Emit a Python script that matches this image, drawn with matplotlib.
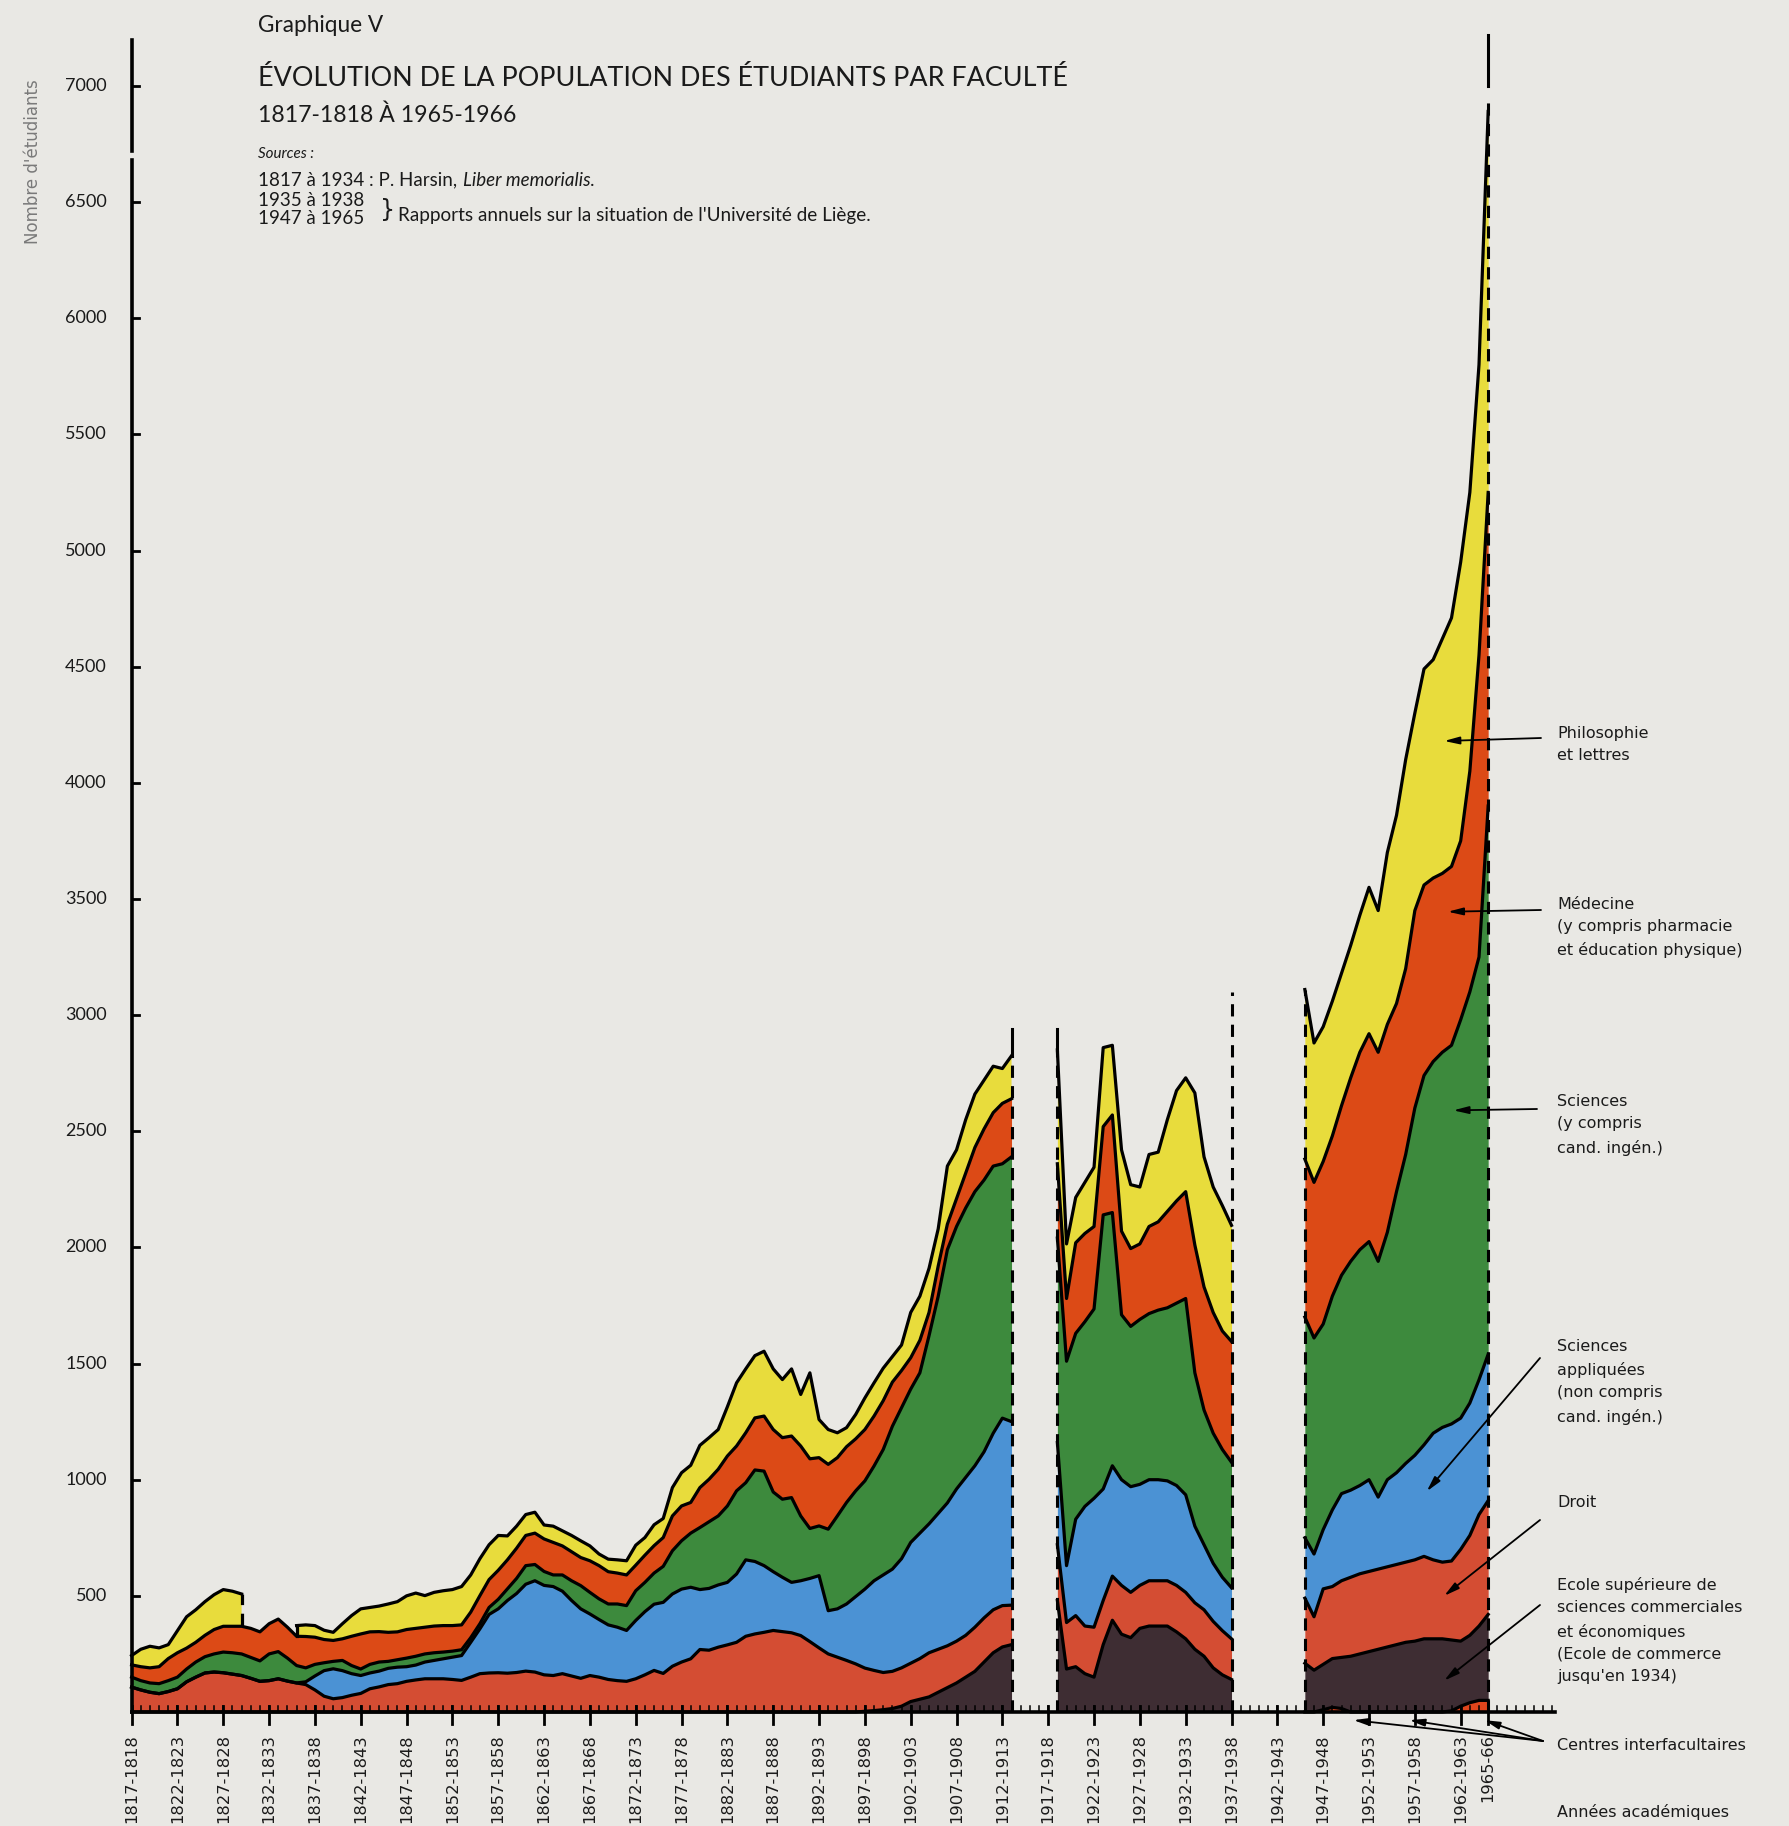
import numpy as np
import matplotlib.pyplot as plt

W, H = 1789, 1826
BG = '#e9e8e4'
nan = float('nan')

# Nombre d'étudiants par faculté (du bas vers le haut)

# 1817-1818 à 1913-1914
years_a = list(range(1817, 1914))
esc_a = [0] * 80 + [3, 6, 10, 15, 25, 45, 55, 65, 85, 105, 125, 150, 175, 215, 255, 280, 290]
droit_a = [107, 95, 85, 79, 88, 100, 130, 150, 168, 172, 169, 163, 157, 145, 132, 135, 143, 133, 125,
           118, 95, 68, 57, 62, 72, 80, 100, 108, 118, 122, 132, 138, 143, 143, 143, 140, 136, 150, 165,
           168, 169, 167, 170, 176, 172, 160, 157,
           165, 155, 145, 157, 150, 140, 135, 132, 143, 160, 179, 166, 197, 215, 229, 269, 266, 279, 289,
           300, 326, 336, 343, 351, 346, 341, 329, 303, 276, 250, 236, 222, 207,
           186, 173, 160, 160, 165, 165, 175, 190, 185, 180, 180, 180, 190, 190, 185, 178, 170]
appl_a = [0] * 19 + [12, 60, 110, 129, 116, 93, 77, 68, 68, 70, 71, 63, 64, 72, 79, 86, 96, 107, 150, 193,
                     252, 275, 313, 340, 374, 393, 385, 383,
                     355, 325, 299, 265, 248, 235, 230, 219, 251, 272, 285, 306, 311, 314, 308, 258, 266,
                     268, 269, 294, 329, 312, 287, 253, 234, 217, 236, 272, 311, 186, 208, 243, 290,
                     340, 386, 420, 440, 470, 520, 540, 555, 585, 615, 655, 680, 695, 715, 760, 807, 790]
sci_a = [43, 40, 40, 43, 47, 50, 55, 65, 70, 78, 89, 92, 93, 90, 88, 115, 117, 99, 75,
         60, 50, 34, 32, 44, 35, 28, 37, 39, 30, 32, 37, 38, 35, 33, 29, 26, 25, 20, 22, 30, 41, 50, 65,
         80, 70, 60, 50,
         70, 85, 100, 93, 89, 90, 100, 107, 128, 126, 134, 155, 186, 208, 233, 267, 287, 297, 329, 358,
         332, 394, 407, 343, 336, 365, 279, 215, 214, 351, 400, 437, 455,
         466, 494, 540, 615, 650, 660, 690, 810, 935, 1090, 1130, 1160, 1180, 1170, 1150, 1095, 1140]
med_a = [53, 60, 65, 73, 95, 105, 90, 85, 92, 105, 111, 114, 119, 125, 125, 130, 140, 133, 126,
         135, 117, 100, 90, 93, 126, 151, 140, 131, 125, 120, 123, 120, 115, 115, 114, 110, 107, 110, 121,
         120, 125, 125, 130, 130, 135, 140, 140,
         125, 125, 121, 136, 143, 139, 133, 132, 110, 117, 118, 124, 150, 150, 132, 172, 183, 201, 215,
         193, 215, 224, 237, 269, 265, 265, 301, 300, 294, 279, 251, 240, 224,
         221, 215, 210, 190, 160, 135, 140, 100, 130, 110, 120, 150, 190, 220, 230, 260, 250]
philo_a = [40, 75, 93, 81, 60, 95, 135, 140, 145, 150, 158, 151, 139, nan, nan, nan, nan, nan, 46,
           50, 50, 40, 35, 65, 89, 108, 105, 110, 122, 130, 145, 152, 136, 145, 150, 155, 165, 160, 159,
           150, 150, 103, 95, 90, 90, 60, 70,
           65, 70, 72, 64, 50, 54, 57, 61, 86, 76, 90, 82, 122, 143, 160, 182, 179, 171, 212, 272,
           275, 268, 279, 261, 250, 289, 222, 370, 164, 150, 107, 82, 105,
           136, 143, 140, 110, 110, 195, 190, 190, 160, 250, 210, 230, 230, 210, 200, 150, 185]

# 1918-1919 à 1937-1938
years_b = list(range(1918, 1938))
esc_b = [480, 185, 195, 165, 150, 290, 395, 335, 320, 360, 370, 370, 370, 345, 315, 270, 240, 190, 160, 140]
droit_b = [240, 200, 220, 205, 215, 190, 190, 210, 195, 185, 195, 195, 195, 200, 200, 200, 200, 200, 190, 175]
appl_b = [440, 245, 415, 515, 555, 480, 475, 455, 455, 435, 435, 435, 430, 430, 420, 330, 280, 250, 230, 220]
sci_b = [880, 880, 800, 795, 815, 1180, 1090, 710, 690, 710, 715, 730, 745, 785, 845, 660, 580, 560, 550, 540]
med_b = [320, 270, 390, 380, 355, 380, 420, 360, 335, 325, 375, 380, 415, 440, 460, 550, 530, 520, 510, 520]
philo_b = [490, 235, 195, 220, 255, 340, 300, 350, 275, 245, 310, 300, 395, 475, 490, 655, 560, 540, 540, 500]

# 1945-1946 à 1965-1966
years_c = list(range(1945, 1966))
centres_c = [0, 0, 10, 20, 15, 0, 0, 0, 0, 0, 0, 0, 0, 0, 0, 0, 5, 25, 40, 50, 50]
esc_c = [210, 180, 195, 210, 220, 240, 250, 260, 270, 280, 290, 300, 305, 315, 315, 315, 305, 280, 290, 320, 370]
droit_c = [280, 230, 325, 310, 330, 340, 345, 345, 345, 345, 345, 345, 350, 355, 340, 330, 340, 395, 430, 480, 490]
appl_c = [260, 270, 255, 330, 375, 375, 380, 395, 310, 375, 395, 425, 450, 480, 545, 580, 590, 565, 570, 580, 630]
sci_c = [950, 930, 885, 920, 940, 985, 1015, 1025, 1015, 1065, 1210, 1330, 1495, 1590, 1600, 1615, 1630, 1715,
         1770, 1820, 2360]
med_c = [680, 670, 700, 690, 730, 790, 850, 895, 900, 895, 810, 800, 850, 820, 790, 770, 770, 770, 950, 1300, 1350]
philo_c = [730, 600, 580, 580, 570, 570, 590, 630, 610, 740, 810, 900, 850, 930, 940, 1010, 1070, 1200, 1200,
           1250, 1640]

colors = {
    'centres': '#e0451c',
    'esc': '#3e2d33',
    'droit': '#d44d33',
    'appl': '#4b92d4',
    'sci': '#3d8a3d',
    'med': '#dc4a16',
    'philo': '#e8dc3c',
}
LW = 2.3

fig = plt.figure(figsize=(W / 100, H / 100), dpi=100, facecolor=BG)

# placement de l'axe: 1817 -> x=131.6 px, 9.166 px par année ; 0 -> y=1712 px, 0.2323 px par étudiant
X0, XS, Y0, YS = 131.6, 9.166, 1712.0, 0.2323
xlim, ylim = (1812, 1985), (-480, 7300)
left = (X0 + (xlim[0] - 1817) * XS) / W
right = (X0 + (xlim[1] - 1817) * XS) / W
bottom = 1 - (Y0 - ylim[0] * YS) / H
top = 1 - (Y0 - ylim[1] * YS) / H
ax = fig.add_axes([left, bottom, right - left, top - bottom])
ax.set_xlim(xlim)
ax.set_ylim(ylim)
ax.axis('off')


def fpx(x, y):
    return x / W, 1 - y / H


def draw_block(years, series, keys):
    x = np.asarray(years, float)
    base = np.zeros(len(x))
    outlines = []
    for vals, key in zip(series, keys):
        v = np.asarray(vals, float)
        have = ~np.isnan(v)
        tp = base + np.nan_to_num(v)
        ax.fill_between(x, base, tp, where=have, color=colors[key], lw=0, zorder=1)
        outlines.append((base.copy(), tp, have))
        base = tp
    for low, tp, have in outlines:
        ax.plot(x, np.where(have, tp, np.nan), color='k', lw=LW, zorder=3, solid_joinstyle='round')
        for i in range(len(x) - 1):
            if have[i] != have[i + 1]:
                j = i if have[i] else i + 1
                ax.plot([x[j], x[j]], [low[j], tp[j]], color='k', lw=LW, zorder=3,
                        ls=(0, (4, 2.7)) if have[i] else '-')
    return base


def edge(xv, y0, y1, dashed=True):
    ax.plot([xv, xv], [y0, y1], color='k', lw=2.2, zorder=4, clip_on=False,
            ls=(0, (4, 2.7)) if dashed else '-')


keys6 = ['esc', 'droit', 'appl', 'sci', 'med', 'philo']
tot_a = draw_block(years_a, [esc_a, droit_a, appl_a, sci_a, med_a, philo_a], keys6)
tot_b = draw_block(years_b, [esc_b, droit_b, appl_b, sci_b, med_b, philo_b], keys6)
tot_c = draw_block(years_c, [centres_c, esc_c, droit_c, appl_c, sci_c, med_c, philo_c], ['centres'] + keys6)

# limites des périodes
edge(years_a[-1], 0, tot_a[-1])
edge(years_a[-1], tot_a[-1], 2940, dashed=False)
edge(years_b[0], 0, tot_b[0])
edge(years_b[0], tot_b[0], 2940, dashed=False)
edge(years_b[-1], 0, 3100)
edge(years_c[0], 0, tot_c[0])
edge(years_c[-1], 0, 6950)
edge(years_c[-1], 7000, 7220, dashed=False)

# axe vertical
ax.plot([1817, 1817], [0, 6681], color='k', lw=2.6, zorder=5, clip_on=False)
ax.plot([1817, 1817], [6720, 7197], color='k', lw=2.6, zorder=5, clip_on=False)
for v in range(500, 7001, 500):
    ax.plot([1817, 1817.8], [v, v], color='k', lw=2, zorder=5)
    ax.text(1814.3, v, str(v), ha='right', va='center', fontsize=13, family='Lato', color='#1a1a1a')

# axe horizontal
ax.plot([1817, 1972.3], [0, 0], color='k', lw=2.6, zorder=5, clip_on=False)
for yr in range(1817, 1973):
    ax.plot([yr, yr], [0, 26], color='k', lw=1.1, zorder=5)
tick_years = list(range(1817, 1963, 5)) + [1965]
tick_labels = [f'{y}-{y + 1}' for y in range(1817, 1963, 5)] + ['1965-66']
for yr, lab in zip(tick_years, tick_labels):
    ax.plot([yr, yr], [-50, 26], color='k', lw=2, zorder=5, clip_on=False)
    ax.text(yr, -95, lab, rotation=90, ha='center', va='top', fontsize=11.8,
            family='DejaVu Sans', color='#1a1a1a')

# titres
renderer = fig.canvas.get_renderer()


def fit(t, width):
    bb = t.get_window_extent(renderer)
    t.set_fontsize(t.get_fontsize() * width / bb.width)


t = fig.text(*fpx(258, 26), 'Graphique V', fontsize=14, family='Lato', va='center', color='#1a1a1a')
fit(t, 126)
t = fig.text(*fpx(258, 78), 'ÉVOLUTION DE LA POPULATION DES ÉTUDIANTS PAR FACULTÉ', fontsize=20,
             family='Lato', va='center', color='#1a1a1a')
fit(t, 805)
t = fig.text(*fpx(258, 115), '1817-1818 À 1965-1966', fontsize=18, family='Lato', va='center',
             color='#1a1a1a')
fit(t, 258)
t = fig.text(*fpx(258, 154), 'Sources :', fontsize=10, family='Lato', style='italic', va='center',
             color='#1a1a1a')
fit(t, 56)
t = fig.text(*fpx(258, 200), '1935 à 1938', fontsize=10, family='Lato', va='center', color='#1a1a1a')
fit(t, 106)
src_size = t.get_fontsize()
fig.text(*fpx(258, 219), '1947 à 1965', fontsize=src_size, family='Lato', va='center', color='#1a1a1a')
t1 = fig.text(*fpx(258, 180), '1817 à 1934 : P. Harsin,', fontsize=src_size, family='Lato', va='center',
              color='#1a1a1a')
w1 = t1.get_window_extent(renderer).width
fig.text(*fpx(258 + w1 + 6, 180), 'Liber memorialis.', fontsize=src_size, family='Lato',
         style='italic', va='center', color='#1a1a1a')
fig.text(*fpx(380, 210), '}', fontsize=17, family='DejaVu Sans', va='center', color='#1a1a1a')
t = fig.text(*fpx(398, 215), "Rapports annuels sur la situation de l'Université de Liège.", fontsize=10,
             family='Lato', va='center', color='#1a1a1a')
fit(t, 473)

fig.text(*fpx(33, 162), "Nombre d'étudiants", rotation=90, ha='center', va='center', fontsize=12,
         family='DejaVu Sans', color='#7a7a7a')

# légende avec flèches
lab_font = dict(fontsize=11.5, family='DejaVu Sans', color='#1a1a1a', va='top', ha='left', linespacing=1.62)
labels = [
    (726, 'Philosophie\net lettres'),
    (897, 'Médecine\n(y compris pharmacie\net éducation physique)'),
    (1094, 'Sciences\n(y compris\ncand. ingén.)'),
    (1339, 'Sciences\nappliquées\n(non compris\ncand. ingén.)'),
    (1495, 'Droit'),
    (1577, 'Ecole supérieure de\nsciences commerciales\net économiques\n(Ecole de commerce\njusqu\'en 1934)'),
    (1738, 'Centres interfacultaires'),
    (1804, 'Années académiques'),
]
for ypx, txt in labels:
    fig.text(*fpx(1557, ypx), txt, **lab_font)

arrows = [
    ((1541, 738), (1960.2, 4180)),
    ((1541, 910), (1960.6, 3445)),
    ((1537, 1109), (1961.2, 2590)),
    ((1540, 1358), (1958.3, 950)),
    ((1540, 1520), (1960.2, 500)),
    ((1540, 1605), (1960.2, 135)),
    ((1543, 1741), (1950.3, -35)),
    ((1543, 1741), (1956.4, -35)),
    ((1543, 1741), (1964.6, -35)),
]
for (tx, ty), tip in arrows:
    ax.annotate('', xy=tip, xycoords='data', xytext=(tx, H - ty), textcoords='figure pixels',
                arrowprops=dict(arrowstyle='-|>,head_length=0.9,head_width=0.22', color='k', lw=1.3,
                                shrinkA=0, shrinkB=0), zorder=6, annotation_clip=False)

fig.savefig('out.png', dpi=100, facecolor=BG)
